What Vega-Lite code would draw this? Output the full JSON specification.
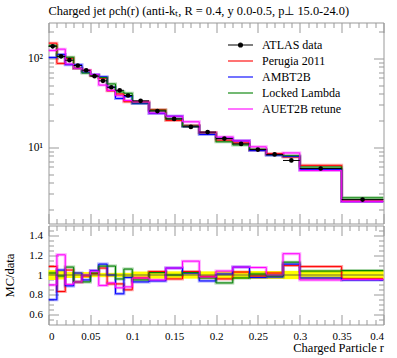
{
  "$schema": "https://vega.github.io/schema/vega-lite/v6.json",
  "padding": {"left": 2.5, "top": 3.5, "right": 10, "bottom": 2},
  "spacing": 0,
  "datasets": {
    "mc": [
      {"s":"Perugia 2011","lo":0,"hi":0.01,"v":147.7,"r":1.086},
      {"s":"Perugia 2011","lo":0.01,"hi":0.02,"v":87.5,"r":0.833},
      {"s":"Perugia 2011","lo":0.02,"hi":0.03,"v":99.8,"r":1.05},
      {"s":"Perugia 2011","lo":0.03,"hi":0.04,"v":77.0,"r":0.93},
      {"s":"Perugia 2011","lo":0.04,"hi":0.05,"v":72.6,"r":0.99},
      {"s":"Perugia 2011","lo":0.05,"hi":0.06,"v":63.7,"r":1.015},
      {"s":"Perugia 2011","lo":0.06,"hi":0.07,"v":59.6,"r":1.07},
      {"s":"Perugia 2011","lo":0.07,"hi":0.08,"v":43.0,"r":0.91},
      {"s":"Perugia 2011","lo":0.08,"hi":0.09,"v":39.7,"r":0.91},
      {"s":"Perugia 2011","lo":0.09,"hi":0.1,"v":32.4,"r":0.85},
      {"s":"Perugia 2011","lo":0.1,"hi":0.12,"v":32.2,"r":0.97},
      {"s":"Perugia 2011","lo":0.12,"hi":0.14,"v":26.4,"r":1.035},
      {"s":"Perugia 2011","lo":0.14,"hi":0.16,"v":20.0,"r":0.96},
      {"s":"Perugia 2011","lo":0.16,"hi":0.18,"v":17.5,"r":1.035},
      {"s":"Perugia 2011","lo":0.18,"hi":0.2,"v":14.6,"r":0.985},
      {"s":"Perugia 2011","lo":0.2,"hi":0.22,"v":12.0,"r":0.96},
      {"s":"Perugia 2011","lo":0.22,"hi":0.24,"v":11.2,"r":1.03},
      {"s":"Perugia 2011","lo":0.24,"hi":0.26,"v":9.31,"r":0.99},
      {"s":"Perugia 2011","lo":0.26,"hi":0.28,"v":8.47,"r":1.02},
      {"s":"Perugia 2011","lo":0.28,"hi":0.3,"v":7.77,"r":1.095},
      {"s":"Perugia 2011","lo":0.3,"hi":0.35,"v":6.26,"r":1.085},
      {"s":"Perugia 2011","lo":0.35,"hi":0.4,"v":2.48,"r":0.96},
      {"s":"AMBT2B","lo":0,"hi":0.01,"v":102,"r":0.75},
      {"s":"AMBT2B","lo":0.01,"hi":0.02,"v":110.3,"r":1.05},
      {"s":"AMBT2B","lo":0.02,"hi":0.03,"v":84.6,"r":0.89},
      {"s":"AMBT2B","lo":0.03,"hi":0.04,"v":84.5,"r":1.02},
      {"s":"AMBT2B","lo":0.04,"hi":0.05,"v":69.6,"r":0.95},
      {"s":"AMBT2B","lo":0.05,"hi":0.06,"v":65.6,"r":1.045},
      {"s":"AMBT2B","lo":0.06,"hi":0.07,"v":61.8,"r":1.11},
      {"s":"AMBT2B","lo":0.07,"hi":0.08,"v":47.2,"r":1.0},
      {"s":"AMBT2B","lo":0.08,"hi":0.09,"v":35.3,"r":0.81},
      {"s":"AMBT2B","lo":0.09,"hi":0.1,"v":37.1,"r":0.975},
      {"s":"AMBT2B","lo":0.1,"hi":0.12,"v":30.9,"r":0.93},
      {"s":"AMBT2B","lo":0.12,"hi":0.14,"v":24.0,"r":0.94},
      {"s":"AMBT2B","lo":0.14,"hi":0.16,"v":22.3,"r":1.07},
      {"s":"AMBT2B","lo":0.16,"hi":0.18,"v":17.2,"r":1.02},
      {"s":"AMBT2B","lo":0.18,"hi":0.2,"v":13.9,"r":0.94},
      {"s":"AMBT2B","lo":0.2,"hi":0.22,"v":12.6,"r":1.01},
      {"s":"AMBT2B","lo":0.22,"hi":0.24,"v":11.8,"r":1.08},
      {"s":"AMBT2B","lo":0.24,"hi":0.26,"v":9.17,"r":0.975},
      {"s":"AMBT2B","lo":0.26,"hi":0.28,"v":8.13,"r":0.98},
      {"s":"AMBT2B","lo":0.28,"hi":0.3,"v":7.88,"r":1.11},
      {"s":"AMBT2B","lo":0.3,"hi":0.35,"v":5.60,"r":0.97},
      {"s":"AMBT2B","lo":0.35,"hi":0.4,"v":2.45,"r":0.95},
      {"s":"Locked Lambda","lo":0,"hi":0.01,"v":138.7,"r":1.02},
      {"s":"Locked Lambda","lo":0.01,"hi":0.02,"v":104,"r":0.99},
      {"s":"Locked Lambda","lo":0.02,"hi":0.03,"v":102.6,"r":1.08},
      {"s":"Locked Lambda","lo":0.03,"hi":0.04,"v":77.0,"r":0.93},
      {"s":"Locked Lambda","lo":0.04,"hi":0.05,"v":68.2,"r":0.93},
      {"s":"Locked Lambda","lo":0.05,"hi":0.06,"v":64.1,"r":1.02},
      {"s":"Locked Lambda","lo":0.06,"hi":0.07,"v":60.7,"r":1.09},
      {"s":"Locked Lambda","lo":0.07,"hi":0.08,"v":51.4,"r":1.09},
      {"s":"Locked Lambda","lo":0.08,"hi":0.09,"v":41.9,"r":0.96},
      {"s":"Locked Lambda","lo":0.09,"hi":0.1,"v":40.4,"r":1.06},
      {"s":"Locked Lambda","lo":0.1,"hi":0.12,"v":31.5,"r":0.95},
      {"s":"Locked Lambda","lo":0.12,"hi":0.14,"v":26.1,"r":1.025},
      {"s":"Locked Lambda","lo":0.14,"hi":0.16,"v":20.8,"r":1.0},
      {"s":"Locked Lambda","lo":0.16,"hi":0.18,"v":17.3,"r":1.025},
      {"s":"Locked Lambda","lo":0.18,"hi":0.2,"v":14.4,"r":0.97},
      {"s":"Locked Lambda","lo":0.2,"hi":0.22,"v":11.5,"r":0.92},
      {"s":"Locked Lambda","lo":0.22,"hi":0.24,"v":10.6,"r":0.97},
      {"s":"Locked Lambda","lo":0.24,"hi":0.26,"v":9.49,"r":1.01},
      {"s":"Locked Lambda","lo":0.26,"hi":0.28,"v":8.22,"r":0.99},
      {"s":"Locked Lambda","lo":0.28,"hi":0.3,"v":8.02,"r":1.13},
      {"s":"Locked Lambda","lo":0.3,"hi":0.35,"v":6.0,"r":1.04},
      {"s":"Locked Lambda","lo":0.35,"hi":0.4,"v":2.70,"r":1.045},
      {"s":"AUET2B retune","lo":0,"hi":0.01,"v":122.4,"r":0.90},
      {"s":"AUET2B retune","lo":0.01,"hi":0.02,"v":126.4,"r":1.204},
      {"s":"AUET2B retune","lo":0.02,"hi":0.03,"v":86.0,"r":0.905},
      {"s":"AUET2B retune","lo":0.03,"hi":0.04,"v":77.0,"r":0.93},
      {"s":"AUET2B retune","lo":0.04,"hi":0.05,"v":73.3,"r":1.0},
      {"s":"AUET2B retune","lo":0.05,"hi":0.06,"v":65.3,"r":1.04},
      {"s":"AUET2B retune","lo":0.06,"hi":0.07,"v":49.9,"r":0.895},
      {"s":"AUET2B retune","lo":0.07,"hi":0.08,"v":43.4,"r":0.92},
      {"s":"AUET2B retune","lo":0.08,"hi":0.09,"v":37.9,"r":0.87},
      {"s":"AUET2B retune","lo":0.09,"hi":0.1,"v":33.5,"r":0.88},
      {"s":"AUET2B retune","lo":0.1,"hi":0.12,"v":32.2,"r":0.97},
      {"s":"AUET2B retune","lo":0.12,"hi":0.14,"v":24.2,"r":0.95},
      {"s":"AUET2B retune","lo":0.14,"hi":0.16,"v":22.3,"r":1.07},
      {"s":"AUET2B retune","lo":0.16,"hi":0.18,"v":19.3,"r":1.14},
      {"s":"AUET2B retune","lo":0.18,"hi":0.2,"v":14.5,"r":0.98},
      {"s":"AUET2B retune","lo":0.2,"hi":0.22,"v":13.0,"r":1.04},
      {"s":"AUET2B retune","lo":0.22,"hi":0.24,"v":11.8,"r":1.08},
      {"s":"AUET2B retune","lo":0.24,"hi":0.26,"v":10.1,"r":1.076},
      {"s":"AUET2B retune","lo":0.26,"hi":0.28,"v":8.3,"r":1.0},
      {"s":"AUET2B retune","lo":0.28,"hi":0.3,"v":8.63,"r":1.215},
      {"s":"AUET2B retune","lo":0.3,"hi":0.35,"v":5.48,"r":0.95},
      {"s":"AUET2B retune","lo":0.35,"hi":0.4,"v":2.46,"r":0.955}
    ],
    "dat": [
      {"lo":0,"hi":0.01,"c":0.005,"d":136,"dl":129.2,"dh":142.8,"bl":0.95,"bh":1.05},
      {"lo":0.01,"hi":0.02,"c":0.015,"d":105,"dl":100.3,"dh":109.7,"bl":0.955,"bh":1.045},
      {"lo":0.02,"hi":0.03,"c":0.025,"d":95,"dl":92.2,"dh":97.9,"bl":0.97,"bh":1.03},
      {"lo":0.03,"hi":0.04,"c":0.035,"d":82.8,"dl":80.3,"dh":85.3,"bl":0.97,"bh":1.03},
      {"lo":0.04,"hi":0.05,"c":0.045,"d":73.3,"dl":71.1,"dh":75.5,"bl":0.97,"bh":1.03},
      {"lo":0.05,"hi":0.06,"c":0.055,"d":62.8,"dl":61.4,"dh":64.2,"bl":0.978,"bh":1.022},
      {"lo":0.06,"hi":0.07,"c":0.065,"d":55.7,"dl":54.5,"dh":56.9,"bl":0.978,"bh":1.022},
      {"lo":0.07,"hi":0.08,"c":0.075,"d":47.2,"dl":46.2,"dh":48.2,"bl":0.978,"bh":1.022},
      {"lo":0.08,"hi":0.09,"c":0.085,"d":43.6,"dl":42.6,"dh":44.6,"bl":0.978,"bh":1.022},
      {"lo":0.09,"hi":0.1,"c":0.095,"d":38.1,"dl":37.3,"dh":38.9,"bl":0.978,"bh":1.022},
      {"lo":0.1,"hi":0.12,"c":0.11,"d":33.2,"dl":32.0,"dh":34.4,"bl":0.965,"bh":1.035},
      {"lo":0.12,"hi":0.14,"c":0.13,"d":25.5,"dl":24.6,"dh":26.4,"bl":0.963,"bh":1.037},
      {"lo":0.14,"hi":0.16,"c":0.15,"d":20.8,"dl":20.0,"dh":21.6,"bl":0.963,"bh":1.037},
      {"lo":0.16,"hi":0.18,"c":0.17,"d":16.9,"dl":16.3,"dh":17.5,"bl":0.963,"bh":1.037},
      {"lo":0.18,"hi":0.2,"c":0.19,"d":14.8,"dl":14.3,"dh":15.3,"bl":0.963,"bh":1.037},
      {"lo":0.2,"hi":0.22,"c":0.21,"d":12.5,"dl":12.0,"dh":13.0,"bl":0.96,"bh":1.04},
      {"lo":0.22,"hi":0.24,"c":0.23,"d":10.9,"dl":10.5,"dh":11.3,"bl":0.96,"bh":1.04},
      {"lo":0.24,"hi":0.26,"c":0.25,"d":9.4,"dl":9.0,"dh":9.8,"bl":0.96,"bh":1.04},
      {"lo":0.26,"hi":0.28,"c":0.27,"d":8.3,"dl":7.97,"dh":8.63,"bl":0.96,"bh":1.04},
      {"lo":0.28,"hi":0.3,"c":0.29,"d":7.1,"dl":6.80,"dh":7.40,"bl":0.958,"bh":1.042},
      {"lo":0.3,"hi":0.35,"c":0.325,"d":5.77,"dl":5.51,"dh":6.03,"bl":0.955,"bh":1.045},
      {"lo":0.35,"hi":0.4,"c":0.375,"d":2.58,"dl":2.46,"dh":2.70,"bl":0.953,"bh":1.047}
    ]
  },
  "resolve": {"legend": {"color": "independent"}},
  "vconcat": [
    {
      "width": 335,
      "height": 201,
      "title": {"text": "Charged jet ρch(r) (anti-kₜ, R = 0.4, y 0.0-0.5, p⊥ 15.0-24.0)", "anchor": "start", "frame": "group", "font": "Liberation Serif", "fontSize": 12.4, "fontWeight": "normal", "color": "black", "offset": 5},
      "resolve": {"axis": {"x": "independent", "y": "independent"}},
      "layer": [
        {
          "data": {"name": "mc"},
          "transform": [{"fold": ["lo", "hi"], "as": ["k", "x"]}],
          "mark": {"type": "line", "strokeWidth": 3, "opacity": 0.35, "clip": true},
          "encoding": {
            "x": {"field": "x", "type": "quantitative", "scale": {"domain": [0, 0.4], "nice": false, "zero": false},
                  "axis": {"orient": "bottom", "values": [0,0.05,0.1,0.15,0.2,0.25,0.3,0.35,0.4], "labels": false, "tickSize": -10, "title": null}},
            "y": {"field": "v", "type": "quantitative", "scale": {"type": "log", "domain": [1.39, 252], "nice": false},
                  "axis": {"orient": "left", "values": [10, 100], "tickSize": -10, "labelPadding": 16, "labelFontSize": 11.5, "labelExpr": "datum.value == 100 ? '10²' : '10¹'", "title": null}},
            "color": {"field": "s", "type": "nominal", "scale": {"domain": ["ATLAS data", "Perugia 2011", "AMBT2B", "Locked Lambda", "AUET2B retune"], "range": ["black", "#ff0000", "#0000ff", "#008000", "#ff00ff"]},
                      "legend": {"orient": "none", "legendX": 186, "legendY": 16.5, "title": null, "symbolType": "M-2.5,0H2.5", "symbolSize": 100, "symbolStrokeWidth": 1.1, "labelFont": "Liberation Serif", "labelFontSize": 12, "labelColor": "black", "labelOffset": 15.5, "rowPadding": 4,
                                 "encode": {"symbols": {"update": {
                                   "shape": [{"test": "datum.value === 'ATLAS data'", "value": "M-2.5,0H2.5M0.4,0A0.4,0.4,0,1,1,-0.4,0A0.4,0.4,0,1,1,0.4,0Z"}, {"value": "M-2.5,0H2.5"}],
                                   "fill": [{"test": "datum.value === 'ATLAS data'", "value": "black"}, {"value": "transparent"}],
                                   "opacity": {"value": 1}, "strokeOpacity": {"value": 1}, "strokeWidth": {"value": 1.1}}}}}},
            "order": [{"field": "x", "type": "quantitative"}, {"field": "k", "type": "ordinal"}]
          }
        },
        {
          "data": {"name": "mc"},
          "transform": [{"fold": ["lo", "hi"], "as": ["k", "x"]}],
          "mark": {"type": "line", "strokeWidth": 1, "clip": true},
          "encoding": {
            "x": {"field": "x", "type": "quantitative",
                  "axis": {"orient": "bottom", "values": [0.01,0.02,0.03,0.04,0.06,0.07,0.08,0.09,0.11,0.12,0.13,0.14,0.16,0.17,0.18,0.19,0.21,0.22,0.23,0.24,0.26,0.27,0.28,0.29,0.31,0.32,0.33,0.34,0.36,0.37,0.38,0.39], "labels": false, "tickSize": -5, "title": null}},
            "y": {"field": "v", "type": "quantitative",
                  "axis": {"orient": "left", "values": [2,3,4,5,6,7,8,9,20,30,40,50,60,70,80,90,200], "labels": false, "tickSize": -5, "title": null}},
            "color": {"field": "s", "type": "nominal",
                      "legend": {"orient": "none", "legendX": 186, "legendY": 16.5, "title": null, "symbolType": "M-2.5,0H2.5", "symbolSize": 100, "symbolStrokeWidth": 1.1, "labelFont": "Liberation Serif", "labelFontSize": 12, "labelColor": "black", "labelOffset": 15.5, "rowPadding": 4,
                                 "encode": {"symbols": {"update": {
                                   "shape": [{"test": "datum.value === 'ATLAS data'", "value": "M-2.5,0H2.5M0.4,0A0.4,0.4,0,1,1,-0.4,0A0.4,0.4,0,1,1,0.4,0Z"}, {"value": "M-2.5,0H2.5"}],
                                   "fill": [{"test": "datum.value === 'ATLAS data'", "value": "black"}, {"value": "transparent"}],
                                   "opacity": {"value": 1}, "strokeOpacity": {"value": 1}, "strokeWidth": {"value": 1.1}}}}}},
            "order": [{"field": "x", "type": "quantitative"}, {"field": "k", "type": "ordinal"}]
          }
        },
        {
          "data": {"name": "dat"},
          "mark": {"type": "rule", "color": "black", "strokeWidth": 1},
          "encoding": {
            "x": {"field": "lo", "type": "quantitative",
                  "axis": {"orient": "top", "values": [0,0.05,0.1,0.15,0.2,0.25,0.3,0.35,0.4], "labels": false, "tickSize": -10, "title": null}},
            "x2": {"field": "hi"},
            "y": {"field": "d", "type": "quantitative",
                  "axis": {"orient": "right", "values": [10, 100], "labels": false, "tickSize": -10, "title": null}}
          }
        },
        {
          "data": {"name": "dat"},
          "mark": {"type": "rule", "color": "black", "strokeWidth": 1},
          "encoding": {
            "x": {"field": "c", "type": "quantitative",
                  "axis": {"orient": "top", "values": [0.01,0.02,0.03,0.04,0.06,0.07,0.08,0.09,0.11,0.12,0.13,0.14,0.16,0.17,0.18,0.19,0.21,0.22,0.23,0.24,0.26,0.27,0.28,0.29,0.31,0.32,0.33,0.34,0.36,0.37,0.38,0.39], "labels": false, "tickSize": -5, "title": null}},
            "y": {"field": "dl", "type": "quantitative",
                  "axis": {"orient": "right", "values": [2,3,4,5,6,7,8,9,20,30,40,50,60,70,80,90,200], "labels": false, "tickSize": -5, "title": null}},
            "y2": {"field": "dh"}
          }
        },
        {
          "data": {"name": "dat"},
          "mark": {"type": "point", "filled": true, "color": "black", "size": 22, "opacity": 1},
          "encoding": {
            "x": {"field": "c", "type": "quantitative", "axis": null},
            "y": {"field": "d", "type": "quantitative", "axis": null}
          }
        }
      ]
    },
    {
      "width": 335,
      "height": 99,
      "resolve": {"axis": {"x": "independent", "y": "independent"}},
      "layer": [
        {
          "data": {"name": "dat"},
          "mark": {"type": "rect", "color": "#ffff00", "opacity": 1},
          "encoding": {
            "x": {"field": "lo", "type": "quantitative", "scale": {"domain": [0, 0.4], "nice": false, "zero": false},
                  "axis": {"orient": "bottom", "values": [0,0.05,0.1,0.15,0.2,0.25,0.3,0.35,0.4], "format": "~g", "tickSize": -10, "labelPadding": 16, "title": "Charged Particle r", "titleAnchor": "end", "titlePadding": 0}},
            "x2": {"field": "hi"},
            "y": {"field": "bl", "type": "quantitative", "scale": {"domain": [0.5, 1.5], "nice": false, "zero": false},
                  "axis": {"orient": "left", "values": [0.6, 0.8, 1, 1.2, 1.4], "format": "~g", "tickSize": -10, "labelPadding": 16, "title": "MC/data", "titlePadding": 12}},
            "y2": {"field": "bh"}
          }
        },
        {
          "data": {"name": "mc"},
          "transform": [{"fold": ["lo", "hi"], "as": ["k", "x"]}],
          "mark": {"type": "line", "strokeWidth": 3, "opacity": 0.35, "clip": true},
          "encoding": {
            "x": {"field": "x", "type": "quantitative",
                  "axis": {"orient": "bottom", "values": [0.01,0.02,0.03,0.04,0.06,0.07,0.08,0.09,0.11,0.12,0.13,0.14,0.16,0.17,0.18,0.19,0.21,0.22,0.23,0.24,0.26,0.27,0.28,0.29,0.31,0.32,0.33,0.34,0.36,0.37,0.38,0.39], "labels": false, "tickSize": -5, "title": null}},
            "y": {"field": "r", "type": "quantitative",
                  "axis": {"orient": "left", "values": [0.55,0.65,0.7,0.75,0.85,0.9,0.95,1.05,1.1,1.15,1.25,1.3,1.35,1.45], "labels": false, "tickSize": -5, "title": null}},
            "color": {"field": "s", "type": "nominal", "legend": null},
            "order": [{"field": "x", "type": "quantitative"}, {"field": "k", "type": "ordinal"}]
          }
        },
        {
          "data": {"name": "mc"},
          "transform": [{"fold": ["lo", "hi"], "as": ["k", "x"]}],
          "mark": {"type": "line", "strokeWidth": 1, "clip": true},
          "encoding": {
            "x": {"field": "x", "type": "quantitative",
                  "axis": {"orient": "top", "values": [0,0.05,0.1,0.15,0.2,0.25,0.3,0.35,0.4], "labels": false, "tickSize": -10, "title": null}},
            "y": {"field": "r", "type": "quantitative",
                  "axis": {"orient": "right", "values": [0.6, 0.8, 1, 1.2, 1.4], "labels": false, "tickSize": -10, "title": null}},
            "color": {"field": "s", "type": "nominal", "legend": null},
            "order": [{"field": "x", "type": "quantitative"}, {"field": "k", "type": "ordinal"}]
          }
        },
        {
          "data": {"name": "dat"},
          "mark": {"type": "rule", "color": "#444", "strokeWidth": 0.8},
          "encoding": {
            "x": {"field": "lo", "type": "quantitative",
                  "axis": {"orient": "top", "values": [0.01,0.02,0.03,0.04,0.06,0.07,0.08,0.09,0.11,0.12,0.13,0.14,0.16,0.17,0.18,0.19,0.21,0.22,0.23,0.24,0.26,0.27,0.28,0.29,0.31,0.32,0.33,0.34,0.36,0.37,0.38,0.39], "labels": false, "tickSize": -5, "title": null}},
            "x2": {"field": "hi"},
            "y": {"datum": 1, "type": "quantitative",
                  "axis": {"orient": "right", "values": [0.55,0.65,0.7,0.75,0.85,0.9,0.95,1.05,1.1,1.15,1.25,1.3,1.35,1.45], "labels": false, "tickSize": -5, "title": null}}
          }
        }
      ]
    }
  ],
  "config": {
    "view": {"stroke": "#999", "strokeWidth": 1},
    "axis": {"domain": false, "grid": false, "tickColor": "#999", "tickWidth": 1, "labelFont": "Liberation Serif", "labelFontSize": 11, "labelColor": "black", "titleFont": "Liberation Serif", "titleFontWeight": "normal", "titleColor": "black", "titleFontSize": 12.5}
  }
}
